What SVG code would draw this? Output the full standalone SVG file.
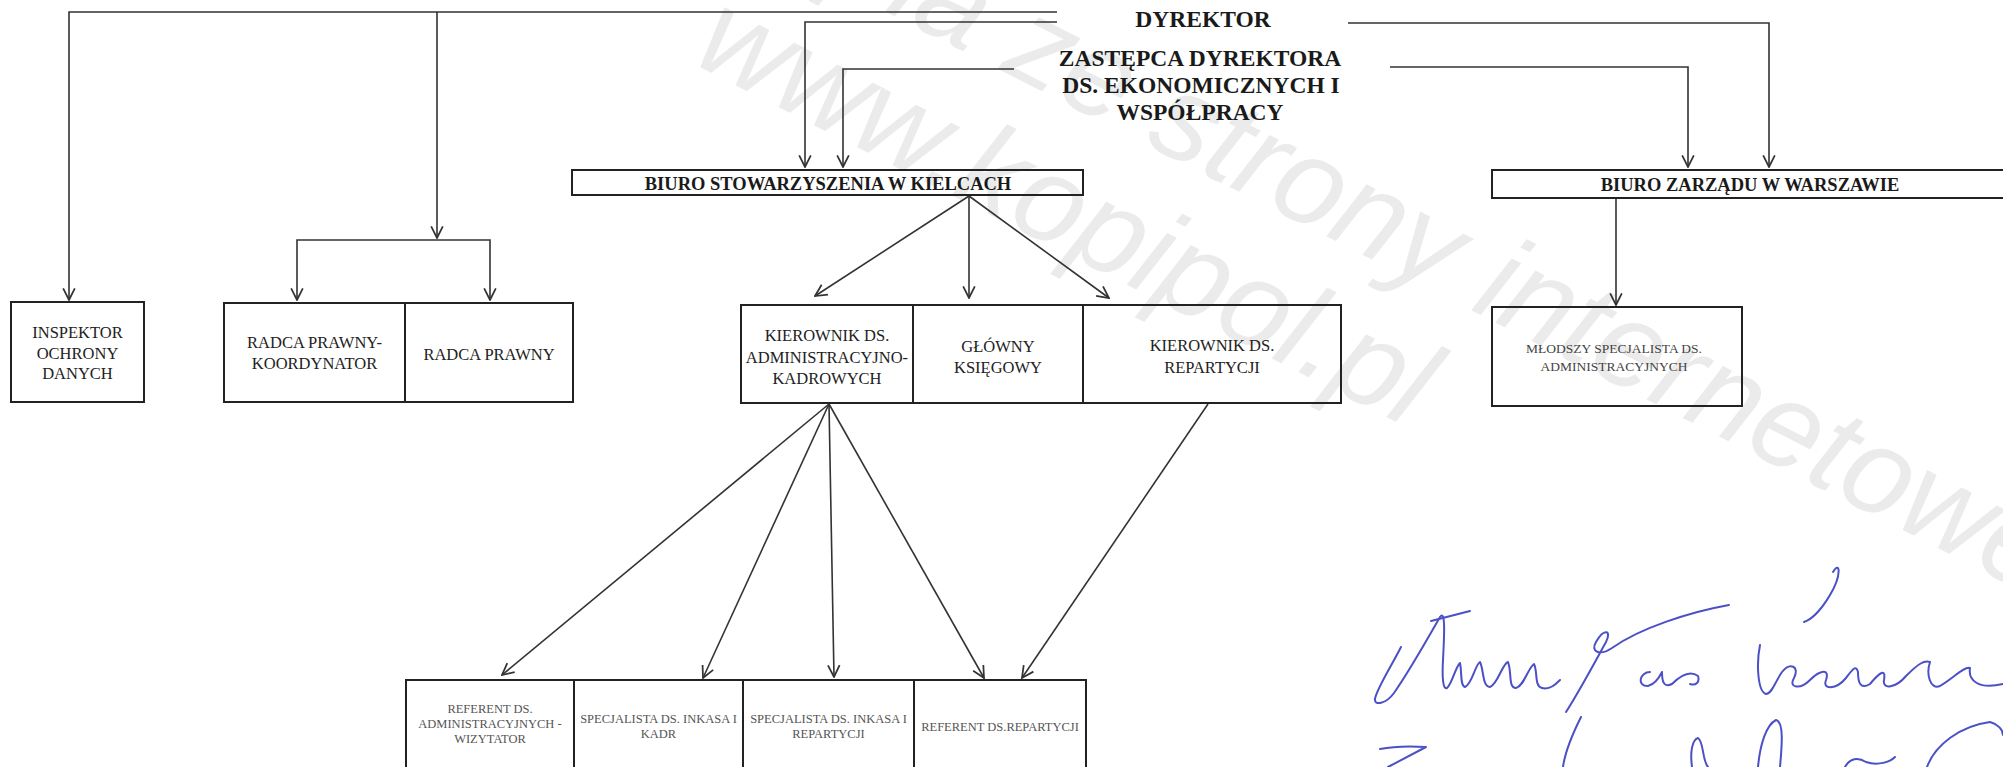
<svg xmlns="http://www.w3.org/2000/svg" width="2003" height="767" viewBox="0 0 2003 767">
<style>
.wm{font-family:"Liberation Sans",Arial,sans-serif;font-style:italic;font-size:122px;fill:#ebebeb}
.box{fill:none;stroke:#222;stroke-width:2}
.hb{font-family:"Liberation Serif","Times New Roman",serif;font-weight:bold;fill:#1a1a1a;text-anchor:middle}
.t16{font-family:"Liberation Serif","Times New Roman",serif;font-size:16.5px;fill:#222;text-anchor:middle}
.t12{font-family:"Liberation Serif","Times New Roman",serif;font-size:12.5px;fill:#555;text-anchor:middle}
.t13{font-family:"Liberation Serif","Times New Roman",serif;font-size:13.5px;fill:#444;text-anchor:middle}
.c{fill:none;stroke:#333;stroke-width:1.6;marker-end:url(#ah)}
.sig{fill:none;stroke:#4b50c6;stroke-width:2;stroke-linecap:round;stroke-linejoin:round}
</style>
<defs>
<marker id="ah" markerUnits="userSpaceOnUse" markerWidth="14" markerHeight="14" viewBox="0 0 12 12" refX="11" refY="6" orient="auto">
<path d="M1,1 L11,6 L1,11" fill="none" stroke="#333" stroke-width="1.5"/>
</marker>
</defs>
<rect width="2003" height="767" fill="#fff"/>
<g id="watermark">
<text class="wm" transform="translate(690,-88) rotate(27)">Kopia ze strony internetowej</text>
<text class="wm" transform="translate(690,62) rotate(27)">www.kopipol.pl</text>
</g>
<g id="connectors">
<path class="c" d="M1057,12 H69 V300"/>
<path class="c" d="M437,12 V238"/>
<path class="c" d="M437,240 H297 V300"/>
<path class="c" d="M437,240 H490 V300"/>
<path class="c" d="M1057,22 H805 V167"/>
<path class="c" d="M1014,69 H843 V167"/>
<path class="c" d="M1348,23 H1769 V167"/>
<path class="c" d="M1390,67 H1688 V167"/>
<path class="c" d="M969,196 L815,296"/>
<path class="c" d="M969,196 L969,298"/>
<path class="c" d="M969,196 L1109,298"/>
<path class="c" d="M1616,198 V305"/>
<path class="c" d="M829,404 L502,675"/>
<path class="c" d="M829,404 L703,678"/>
<path class="c" d="M829,404 L834,677"/>
<path class="c" d="M829,404 L984,678"/>
<path class="c" d="M1208,404 L1022,678"/>
</g>
<g id="dyrektor">
<text class="hb" x="1203" y="27" font-size="23.5">DYREKTOR</text>
</g>
<g id="zastepca">
<text class="hb" x="1200" y="66" font-size="23.5">ZASTĘPCA DYREKTORA</text>
<text class="hb" x="1201" y="93" font-size="23.5">DS. EKONOMICZNYCH I</text>
<text class="hb" x="1200" y="120" font-size="23.5">WSPÓŁPRACY</text>
</g>
<g id="inspektor">
<rect class="box" x="11" y="302" width="133" height="100"/>
<text class="t16" x="77.5" y="337.5">INSPEKTOR</text>
<text class="t16" x="77.5" y="358.5">OCHRONY</text>
<text class="t16" x="77.5" y="378.5">DANYCH</text>
</g>
<g id="radca-koordynator">
<rect class="box" x="224" y="303" width="181" height="99"/>
<text class="t16" x="314.5" y="348">RADCA PRAWNY-</text>
<text class="t16" x="314.5" y="369">KOORDYNATOR</text>
</g>
<g id="radca">
<rect class="box" x="405" y="303" width="168" height="99"/>
<text class="t16" x="489" y="359.5">RADCA PRAWNY</text>
</g>
<g id="biuro-kielce">
<rect class="box" x="572" y="170" width="511" height="25"/>
<text class="hb" x="828" y="190" font-size="18.5">BIURO STOWARZYSZENIA W KIELCACH</text>
</g>
<g id="biuro-warszawa">
<rect class="box" x="1492" y="170" width="520" height="28"/>
<text class="hb" x="1750" y="191" font-size="18.5">BIURO ZARZĄDU W WARSZAWIE</text>
</g>
<g id="kierownik-adm">
<rect class="box" x="741" y="305" width="172" height="98"/>
<text class="t16" x="827" y="340.5">KIEROWNIK DS.</text>
<text class="t16" x="827" y="362.5">ADMINISTRACYJNO-</text>
<text class="t16" x="827" y="383.5">KADROWYCH</text>
</g>
<g id="glowny-ksiegowy">
<rect class="box" x="913" y="305" width="170" height="98"/>
<text class="t16" x="998" y="351.5">GŁÓWNY</text>
<text class="t16" x="998" y="372.5">KSIĘGOWY</text>
</g>
<g id="kierownik-rep">
<rect class="box" x="1083" y="305" width="258" height="98"/>
<text class="t16" x="1212" y="350.5">KIEROWNIK DS.</text>
<text class="t16" x="1212" y="372.5">REPARTYCJI</text>
</g>
<g id="mlodszy">
<rect class="box" x="1492" y="307" width="250" height="99"/>
<text class="t13" x="1614" y="353">MŁODSZY SPECJALISTA DS.</text>
<text class="t13" x="1614" y="371">ADMINISTRACYJNYCH</text>
</g>
<g id="referent-adm">
<rect class="box" x="406" y="680" width="168" height="100"/>
<text class="t12" x="490" y="713">REFERENT DS.</text>
<text class="t12" x="490" y="728">ADMINISTRACYJNYCH -</text>
<text class="t12" x="490" y="743">WIZYTATOR</text>
</g>
<g id="specjalista-kadr">
<rect class="box" x="574" y="680" width="169" height="100"/>
<text class="t12" x="658.5" y="723">SPECJALISTA DS. INKASA I</text>
<text class="t12" x="658.5" y="738">KADR</text>
</g>
<g id="specjalista-rep">
<rect class="box" x="743" y="680" width="171" height="100"/>
<text class="t12" x="828.5" y="723">SPECJALISTA DS. INKASA I</text>
<text class="t12" x="828.5" y="738">REPARTYCJI</text>
</g>
<g id="referent-rep">
<rect class="box" x="914" y="680" width="172" height="100"/>
<text class="t12" x="1000" y="731">REFERENT DS.REPARTYCJI</text>
</g>
<g id="signature">
<path class="sig" d="M1401,647 C1392,665 1376,690 1375,699 C1374,706 1386,704 1394,693 C1410,670 1428,638 1440,617 C1446,608 1444,640 1443,660 C1442,678 1443,690 1447,688 C1452,684 1455,668 1460,663 C1462,672 1460,686 1465,687 C1472,684 1475,665 1480,662 C1484,670 1482,686 1490,687 C1498,684 1502,664 1508,662 C1512,672 1508,688 1516,688 C1524,686 1528,668 1534,664 C1538,672 1534,686 1542,688 C1550,690 1556,684 1560,680"/>
<path class="sig" d="M1431,621 L1470,611"/>
<path class="sig" d="M1566,712 C1580,690 1596,660 1606,642 C1612,630 1604,628 1596,642 C1590,652 1600,656 1612,648 C1640,628 1690,612 1729,605"/>
<path class="sig" d="M1650,672 C1640,672 1636,686 1648,686 C1656,684 1660,676 1662,672 C1662,682 1664,688 1672,684 C1680,676 1690,670 1698,676 C1700,682 1696,686 1690,684"/>
<path class="sig" d="M1833,572 C1840,560 1842,575 1830,595 C1820,612 1810,620 1804,622"/>
<path class="sig" d="M1760,645 C1756,665 1758,692 1766,694 C1772,694 1776,680 1782,672 C1790,662 1800,666 1794,678 C1788,688 1800,690 1810,680 C1820,670 1830,668 1826,680 C1822,690 1836,690 1846,678 C1852,670 1856,664 1858,672 C1858,682 1860,690 1870,684 C1880,672 1886,668 1884,680 C1882,690 1896,688 1906,676 C1918,664 1924,660 1930,662 C1926,674 1930,690 1940,686 C1954,678 1964,666 1970,668 C1968,680 1978,690 2003,684"/>
<path class="sig" d="M1380,749 C1395,746 1410,746 1426,747 L1388,767"/>
<path class="sig" d="M1581,717 C1572,735 1565,752 1563,767"/>
<path class="sig" d="M1692,767 C1690,752 1692,740 1698,738 C1704,742 1702,760 1708,767"/>
<path class="sig" d="M1758,767 C1760,745 1766,725 1776,720 C1784,722 1782,745 1780,767"/>
<path class="sig" d="M1845,767 C1850,758 1858,757 1866,762 C1878,766 1890,762 1895,757"/>
<path class="sig" d="M1927,767 C1935,745 1960,726 1990,722 C1998,724 2003,730 2003,735"/>
</g>
</svg>
